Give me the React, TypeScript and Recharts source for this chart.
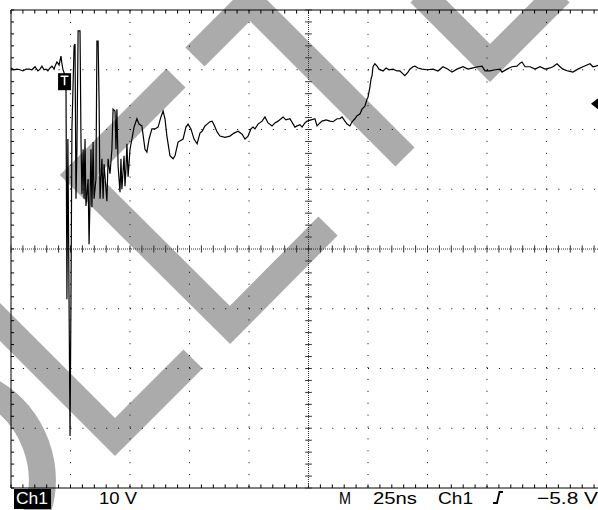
import {
  LineChart,
  Line,
  XAxis,
  YAxis,
  CartesianGrid,
  ReferenceLine,
  ReferenceDot,
} from "recharts";

// Ch1 capture, 25 ns/div, 10 V/div (10 x 8 divisions)
const timeNs = [
  0, 1.3, 2.5, 3.8, 5.0, 6.3, 7.6, 8.8, 10.1, 11.3, 12.2, 13.0, 13.9, 14.7, 15.5, 16.4, 17.2, 18.1, 18.5, 19.3, 20.2, 21.0, 21.4, 21.8, 22.3,
  23.1, 23.5, 23.9, 24.8, 25.2, 25.6, 26.5, 26.9, 27.3, 27.7, 28.2, 29.0, 29.4, 29.8, 30.3, 30.7, 31.1, 31.5, 32.4, 32.8, 33.2, 33.6, 34.0, 34.5, 34.9, 35.7, 36.1, 36.6, 37.0, 37.4,
  38.2, 38.7, 39.1, 39.9, 40.3, 40.8, 41.6, 42.4, 42.9, 43.7, 44.1, 44.5, 45.0, 45.8, 46.2, 46.6, 47.5, 47.9, 48.3, 48.7, 49.2, 50.0,
  50.8, 51.7, 52.9, 53.8, 55.0, 56.3, 57.1, 58.0, 59.2, 60.5, 61.8, 63.0, 63.9, 64.7, 65.5, 66.8, 68.1, 68.9, 70.2, 72.3,
  73.5, 74.4, 75.6, 76.9, 78.2, 79.4, 80.3, 81.5, 82.4, 83.6, 84.5, 85.3, 86.6, 87.8, 89.9, 92.0, 93.7, 95.4, 97.1, 98.3,
  99.6, 100.8, 101.7, 102.5, 103.8, 105.5, 106.7, 108.0, 109.7, 110.9, 112.2, 114.3, 115.5, 117.2, 119.3, 120.2, 121.4, 122.3, 123.5, 124.4,
  126.1, 127.7, 128.6, 129.8, 130.7, 132.4, 134.0, 135.3, 137.0, 138.2, 139.1, 140.3, 141.2, 142.4, 143.3, 144.5, 145.4, 146.6, 147.5, 148.7,
  149.6, 150.0, 150.8, 151.3, 151.7, 152.1, 152.9, 153.8, 154.6, 156.3, 157.6, 158.8, 160.5, 162.2, 163.4, 164.7, 165.5, 166.8, 167.6, 168.9,
  169.7, 171.0, 172.7, 174.8, 177.3, 179.4, 181.5, 183.6, 185.3, 187.4, 189.9, 192.0, 194.1, 196.2, 197.9, 199.2, 201.3, 203.4, 205.5, 206.3,
  208.4, 210.5, 212.6, 213.9, 214.7, 216.0, 218.1, 220.2, 222.3, 224.4, 226.5, 227.7, 229.4, 230.7, 231.9, 234.0, 236.1, 238.2, 240.3, 242.0,
  243.3, 244.5, 245.8, 247.1,
];

const volts = [
  30.3, 30.0, 30.1, 30.0, 29.8, 30.1, 30.1, 30.0, 30.5, 29.8, 30.1, 30.6, 30.0, 30.1, 29.8, 30.3, 30.6, 30.1, 30.6, 31.3, 30.8, 32.3, 31.0, 30.1, 29.5,
  27.6, -8.4, 18.4, -31.3, -8.4, 20.1, 34.0, 34.3, 8.4, 16.7, 36.5, 36.5, 18.4, 9.2, 16.7, 8.4, 18.4, 7.2, 11.7, 0.8, 8.4, 16.7, 7.0, 17.9, 8.4, 11.7, 34.8, 34.8, 25.1, 8.4,
  15.1, 8.4, 14.2, 10.0, 8.0, 15.1, 12.6, 16.7, 23.4, 23.1, 16.7, 23.4, 13.9, 9.5, 15.1, 10.0, 15.6, 10.5, 13.4, 17.6, 12.1, 16.7,
  18.4, 20.4, 21.8, 20.9, 20.6, 16.7, 16.2, 18.4, 20.1, 20.1, 20.4, 22.1, 23.1, 21.8, 18.9, 15.6, 15.1, 15.6, 17.9, 18.4,
  20.4, 20.9, 20.1, 18.4, 17.6, 19.4, 19.7, 20.6, 20.9, 21.3, 21.4, 20.8, 19.6, 18.9, 18.7, 18.9, 19.4, 19.7, 19.2, 18.4,
  18.9, 20.1, 20.4, 20.1, 20.9, 21.4, 22.1, 21.1, 20.6, 21.1, 21.4, 22.1, 21.6, 21.8, 20.4, 20.6, 20.8, 20.4, 21.1, 21.4,
  21.6, 21.8, 20.6, 21.1, 21.4, 21.6, 21.4, 21.3, 21.8, 21.8, 22.1, 21.4, 20.9, 20.6, 21.3, 21.8, 22.3, 22.6, 23.4, 23.9,
  25.1, 25.4, 27.1, 28.5, 29.0, 30.5, 31.0, 30.6, 30.1, 29.8, 30.3, 30.0, 30.1, 29.8, 29.8, 29.3, 29.0, 29.6, 30.1, 30.5,
  30.6, 30.3, 30.1, 30.0, 30.1, 29.8, 30.5, 30.1, 29.6, 30.1, 30.5, 30.1, 30.3, 30.5, 30.6, 29.8, 29.8, 30.0, 30.1, 29.6,
  30.1, 30.5, 30.6, 31.1, 31.3, 30.5, 30.5, 30.1, 30.5, 30.1, 30.3, 30.5, 31.0, 30.5, 30.1, 29.8, 29.6, 30.1, 30.5, 30.8,
  31.0, 30.5, 30.6, 30.8,
];

// trigger position (T) and trigger level arrow
const triggerTimeNs = 22.5;
const triggerMarkV = 28.0;
const levelArrowTimeNs = 243.7;
const levelArrowV = 24.3;

// minor ticks: 5 per division
const timeTicks = Array.from({ length: 51 }, (_, i) => i * 5);
const voltTicks = Array.from({ length: 41 }, (_, i) => -40 + i * 2);

const trace = timeNs.map((t, i) => ({ t, v: volts[i] }));

const CHART_W = 620;
const CHART_H = 510;
const MARGIN = { top: 10, right: 14, bottom: 22, left: 11 };
const PLOT_W = CHART_W - MARGIN.left - MARGIN.right;
const PLOT_H = CHART_H - MARGIN.top - MARGIN.bottom;

const gridX = [1, 2, 3, 4, 6, 7, 8, 9].map((k) => MARGIN.left + (k * PLOT_W) / 10);
const gridY = [1, 2, 3, 5, 6, 7].map((k) => MARGIN.top + (k * PLOT_H) / 8);

const WM = "#ababab";
const font = "'Liberation Sans', Arial, sans-serif";

function TriggerMark({ cx, cy }: { cx?: number; cy?: number }) {
  if (cx == null || cy == null) return null;
  return (
    <g>
      <rect x={cx - 6.5} y={cy - 8.5} width={13} height={17} fill="#000" />
      <path d={`M${cx - 4},${cy - 5.5} h8 M${cx},${cy - 5.5} v9`} stroke="#fff" strokeWidth={1.6} />
    </g>
  );
}

function LevelArrow({ cx, cy }: { cx?: number; cy?: number }) {
  if (cx == null || cy == null) return null;
  return <polygon points={`${cx},${cy} ${cx + 9},${cy - 7} ${cx + 9},${cy + 7}`} fill="#000" />;
}

export default function App() {
  return (
    <div
      style={{
        position: "absolute",
        left: 0,
        top: 0,
        width: 598,
        height: 510,
        overflow: "hidden",
        background: "#fff",
      }}
    >
      <svg width={598} height={510} style={{ position: "absolute", left: 0, top: 0 }}>
        <g fill="none" stroke={WM} strokeWidth={27} strokeLinejoin="miter">
          <polyline points="176,78 79,175 230,325 328,226" />
          <polyline points="195,57 250,2 405,157" />
          <polyline points="420,-7 490,63 560,-7" />
          <polyline points="-20,302 115,437 193,359" />
          <path d="M-10,391 A102,102 0 0 1 36,515" />
        </g>
      </svg>

      <div style={{ position: "absolute", left: 0, top: 0 }}>
        <LineChart width={CHART_W} height={CHART_H} data={trace} margin={MARGIN}>
          <CartesianGrid
            stroke="#000"
            strokeDasharray="1 10.9"
            verticalPoints={gridX}
            horizontalPoints={gridY}
          />
          <XAxis dataKey="t" type="number" domain={[0, 250]} hide allowDataOverflow />
          <YAxis type="number" domain={[-40, 40]} hide allowDataOverflow />

          {/* screen border */}
          <ReferenceLine x={0} stroke="#000" ifOverflow="visible" />
          <ReferenceLine y={40} stroke="#000" ifOverflow="visible" />
          <ReferenceLine y={-40} stroke="#000" ifOverflow="visible" />
          {timeTicks.map((t) => (
            <ReferenceLine
              key={`tt${t}`}
              segment={[
                { x: t, y: 40 },
                { x: t, y: 39.4 },
              ]}
              stroke="#000"
              ifOverflow="visible"
            />
          ))}
          {timeTicks.map((t) => (
            <ReferenceLine
              key={`bt${t}`}
              segment={[
                { x: t, y: -40 },
                { x: t, y: -39.4 },
              ]}
              stroke="#000"
              ifOverflow="visible"
            />
          ))}
          {voltTicks.map((v) => (
            <ReferenceLine
              key={`lt${v}`}
              segment={[
                { x: 0, y: v },
                { x: 1.3, y: v },
              ]}
              stroke="#000"
              ifOverflow="visible"
            />
          ))}

          {/* centre cross with minor ticks */}
          <ReferenceLine y={0} stroke="#333" strokeDasharray="1 1" />
          <ReferenceLine x={125} stroke="#333" strokeDasharray="1 1" />
          {timeTicks.map((t) => (
            <ReferenceLine
              key={`ht${t}`}
              segment={[
                { x: t, y: -0.6 },
                { x: t, y: 0.6 },
              ]}
              stroke="#333"
            />
          ))}
          {voltTicks.map((v) => (
            <ReferenceLine
              key={`vt${v}`}
              segment={[
                { x: 123.6, y: v },
                { x: 126.4, y: v },
              ]}
              stroke="#333"
            />
          ))}

          <Line
            type="linear"
            dataKey="v"
            stroke="#000"
            strokeWidth={1.2}
            dot={false}
            isAnimationActive={false}
          />
          <ReferenceDot x={triggerTimeNs} y={triggerMarkV} r={1} shape={<TriggerMark />} />
          <ReferenceDot
            x={levelArrowTimeNs}
            y={levelArrowV}
            r={1}
            ifOverflow="visible"
            shape={<LevelArrow />}
          />
        </LineChart>
      </div>

      <svg
        width={598}
        height={510}
        style={{ position: "absolute", left: 0, top: 0 }}
        fontFamily={font}
        fontSize={17}
      >
        <rect x={14} y={489} width={37} height={20} fill="#000" />
        <text x={16} y={504} fill="#fff" textLength={32} lengthAdjust="spacingAndGlyphs">Ch1</text>
        <text x={99} y={504} fill="#000" textLength={38} lengthAdjust="spacingAndGlyphs">10 V</text>
        <text x={339} y={504} fill="#000" textLength={12} lengthAdjust="spacingAndGlyphs">M</text>
        <text x={373} y={504} fill="#000" textLength={44} lengthAdjust="spacingAndGlyphs">25ns</text>
        <text x={438} y={504} fill="#000" textLength={35} lengthAdjust="spacingAndGlyphs">Ch1</text>
        <path d="M493,503 H497 L499.5,492 H503" fill="none" stroke="#000" strokeWidth={1.8} />
        <text x={537} y={504} fill="#000" textLength={61} lengthAdjust="spacingAndGlyphs">−5.8 V</text>
      </svg>
    </div>
  );
}
